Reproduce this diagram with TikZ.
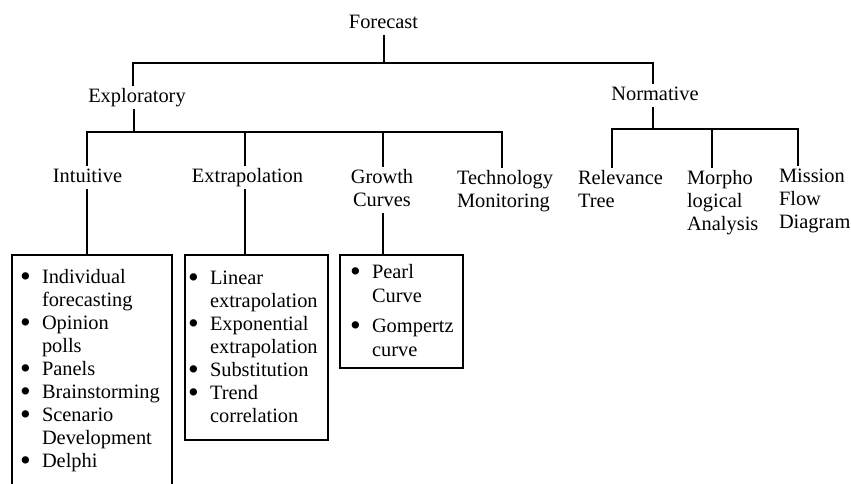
\documentclass[tikz,border=0pt]{standalone}
\usepackage{fontspec}
\setmainfont{Liberation Serif}
% one-column tables with the baseline on the first row
\newcommand{\ctab}[1]{\begin{tabular}[t]{@{}c@{}}#1\end{tabular}}
\newcommand{\ltab}[1]{\begin{tabular}[t]{@{}l@{}}#1\end{tabular}}
% bulleted lists: bullet column plus text column
\newcommand{\btab}[1]{\begin{tabular}[t]{@{}l@{}l@{}}#1\end{tabular}}
\newcommand{\bitem}{\makebox[10.5pt][l]{\hspace*{-0.4pt}\smash{\raisebox{-1.5pt}{\scalebox{1.5}{\textbullet}}}}}
\begin{document}
\begin{tikzpicture}[x=0.5pt,y=-0.5pt,
  every node/.style={font=\fontsize{10.2}{11.5}\selectfont, inner sep=0pt, outer sep=0pt},
  lbl/.style={anchor=base},
  lblw/.style={anchor=base west},
  frame/.style={draw, line width=1pt, anchor=north west},
  wire/.style={line width=1pt}]
\useasboundingbox (0,0) rectangle (851,483);
\clip (0,0) rectangle (851,483);

% labels of the tree
\node[lbl] (forecast) at (383.5,28) {\ctab{Forecast}};
\node[lbl] (exploratory) at (137,102) {\ctab{Exploratory}};
\node[lbl] (normative) at (655,100) {\ctab{Normative}};
\node[lbl] (intuitive) at (87.5,182) {\ctab{Intuitive}};
\node[lbl] (extrap) at (247.5,182) {\ctab{Extrapolation}};
\node[lbl] (growth) at (382,183) {\ctab{Growth\\Curves}};
\node[lblw] (techmon) at (457,184) {\ltab{Technology\\Monitoring}};
\node[lblw] (relevance) at (578,184) {\ltab{Relevance\\Tree}};
\node[lblw] (morpho) at (687,184) {\ltab{Morpho\\logical\\Analysis}};
\node[lblw] (mission) at (779,182) {\ltab{Mission\\Flow\\Diagram}};

% framed lists of techniques
\node[frame, minimum width=80pt, minimum height=125pt] (ibox) at (12,255) {};
\node[frame, minimum width=71.5pt, minimum height=92.5pt] (ebox) at (185,255) {};
\node[frame, minimum width=61.5pt, minimum height=56.5pt] (gbox) at (340,255) {};

\node[lblw] (ilist) at (21,283) {\btab{%
  \bitem & Individual\\ & forecasting\\
  \bitem & Opinion\\ & polls\\
  \bitem & Panels\\
  \bitem & Brainstorming\\
  \bitem & Scenario\\ & Development\\
  \bitem & Delphi}};
\node[lblw] (elist) at (189,284) {\btab{%
  \bitem & Linear\\ & extrapolation\\
  \bitem & Exponential\\ & extrapolation\\
  \bitem & Substitution\\
  \bitem & Trend\\ & correlation}};
\node[lblw] (glist) at (351,278) {\btab{%
  \bitem & Pearl\\[0.8pt] & Curve\\[3.5pt]
  \bitem & Gompertz\\[0.5pt] & curve}};

% first level
\coordinate (a-l) at (133,63);
\coordinate (a-r) at (653,63);
\draw[wire] (forecast.south) -- (forecast.south |- a-l);
\draw[wire] (exploratory.north -| a-l) -- (a-l) -- (a-r) -- (normative.north -| a-r);

% exploratory branch
\coordinate (b-l) at (87,132);
\coordinate (b-r) at (502,132);
\coordinate (b-up) at (134,132);
\coordinate (b-ex) at (245,132);
\coordinate (b-gr) at (383,132);
\draw[wire] (exploratory.south -| b-up) -- (b-up);
\draw[wire] (intuitive.north -| b-l) -- (b-l) -- (b-r) -- (techmon.north -| b-r);
\draw[wire] (b-ex) -- (extrap.north -| b-ex);
\draw[wire] (b-gr) -- (growth.north -| b-gr);

% normative branch
\coordinate (c-l) at (612,129);
\coordinate (c-r) at (798,129);
\coordinate (c-up) at (653,129);
\coordinate (c-mo) at (712,129);
\draw[wire] (normative.south -| c-up) -- (c-up);
\draw[wire] (relevance.north -| c-l) -- (c-l) -- (c-r) -- (mission.north -| c-r);
\draw[wire] (c-mo) -- (morpho.north -| c-mo);

% links down to the lists
\draw[wire] (intuitive.south -| b-l) -- (ibox.north -| b-l);
\draw[wire] (extrap.south -| b-ex) -- (ebox.north -| b-ex);
\draw[wire] (growth.south -| b-gr) -- (gbox.north -| b-gr);
\end{tikzpicture}
\end{document}
